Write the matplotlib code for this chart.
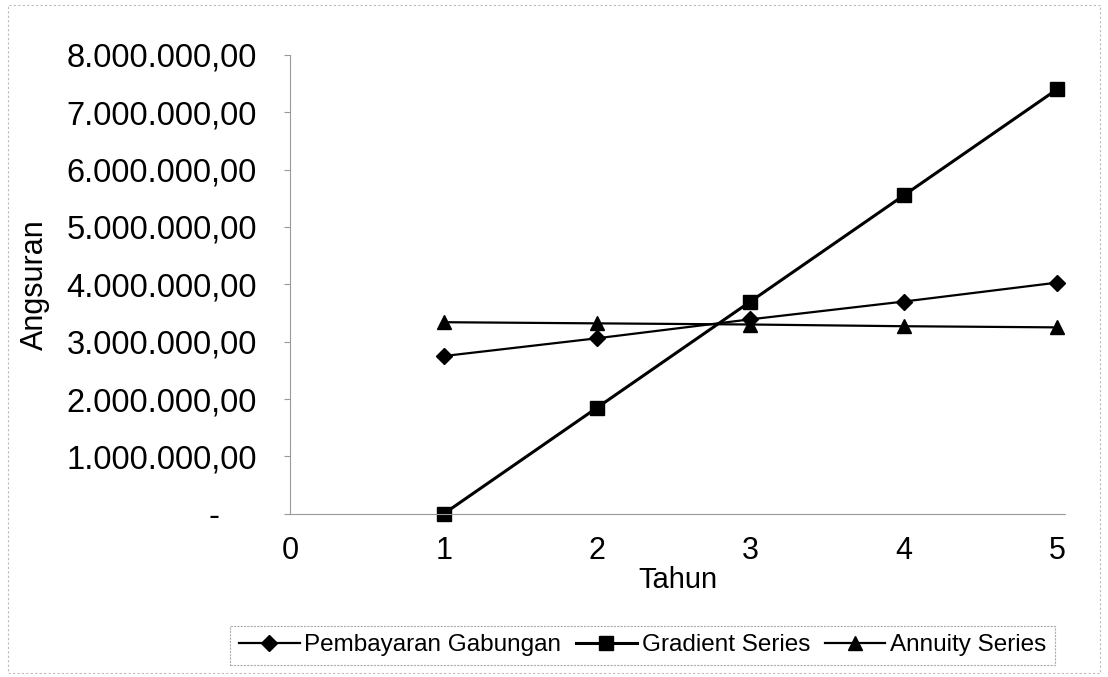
import matplotlib.pyplot as plt
from matplotlib.ticker import FuncFormatter, MultipleLocator
from matplotlib.patches import Rectangle

plt.rcParams['font.family'] = ['Liberation Sans', 'DejaVu Sans']

tahun = [1, 2, 3, 4, 5]
gabungan = [2750000, 3060000, 3390000, 3700000, 4030000]
gradient = [0, 1850000, 3700000, 5550000, 7400000]
annuity = [3340000, 3320000, 3300000, 3270000, 3250000]


def rupiah(v, pos):
    if abs(v) < 1:
        return '-    '
    s = f"{v:,.2f}"
    return s.replace(',', 'X').replace('.', ',').replace('X', '.')


fig = plt.figure(figsize=(11.08, 6.77), dpi=100)
ax = fig.add_axes([0.262, 0.241, 0.699, 0.678])

ax.plot(tahun, gabungan, color='black', lw=1.6, marker='D', ms=8,
        label='Pembayaran Gabungan', clip_on=False)
ax.plot(tahun, gradient, color='black', lw=2.2, marker='s', ms=10,
        label='Gradient Series', clip_on=False)
ax.plot(tahun, annuity, color='black', lw=1.6, marker='^', ms=10,
        label='Annuity Series', clip_on=False)

ax.set_xlim(0, 5.05)
ax.set_ylim(0, 8000000)
ax.xaxis.set_major_locator(MultipleLocator(1))
ax.yaxis.set_major_locator(MultipleLocator(1000000))
ax.yaxis.set_major_formatter(FuncFormatter(rupiah))

for s in ['top', 'right']:
    ax.spines[s].set_visible(False)
for s in ['bottom', 'left']:
    ax.spines[s].set_color('#999999')
    ax.spines[s].set_linestyle((0, (2, 1)))
    ax.spines[s].set_linewidth(0.8)
ax.tick_params(axis='x', length=0, labelsize=22, pad=16)
ax.tick_params(axis='y', length=4, width=0.8, color='#999999',
               labelsize=23.5, pad=20)

ax.set_xlabel('Tahun', fontsize=21, labelpad=0)
ax.set_ylabel('Angsuran', fontsize=22)
ax.yaxis.set_label_coords(-0.31, 0.5)

leg = fig.legend(loc='center', bbox_to_anchor=(0.58, 0.047), ncol=3,
                 fontsize=17.5, frameon=True, fancybox=False,
                 handlelength=2.5, handletextpad=0.2, columnspacing=0.6,
                 borderpad=0.35)
leg.get_frame().set_edgecolor('#999999')
leg.get_frame().set_linestyle((0, (2, 1)))
leg.get_frame().set_linewidth(0.8)

fig.patches.append(Rectangle((0.007, 0.006), 0.986, 0.986, transform=fig.transFigure,
                             fill=False, ec='#bbbbbb', lw=0.8, ls=(0, (2, 2))))

fig.savefig('out.png', dpi=100)
